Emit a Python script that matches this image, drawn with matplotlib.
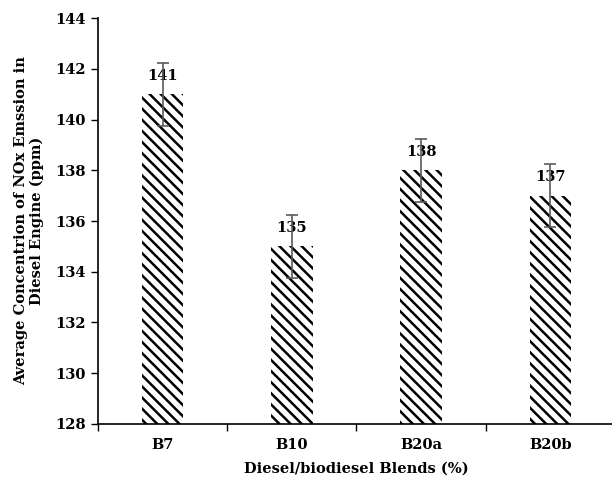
import matplotlib
matplotlib.use("Agg")
import matplotlib.pyplot as plt

plt.rcParams.update({
    "font.family": ["DejaVu Serif"],
    "font.weight": "bold",
    "hatch.linewidth": 1.8,
    "hatch.color": "black",
})

blends = ["B7", "B10", "B20a", "B20b"]
nox_ppm = [141, 135, 138, 137]
nox_err = [1.25, 1.25, 1.25, 1.25]

fig = plt.figure(figsize=(6.12, 4.79), dpi=100)
ax = fig.add_axes([0.16, 0.115, 0.845, 0.847])

x = range(len(blends))
ax.bar(x, nox_ppm, width=0.32, color="white", edgecolor="black", linewidth=0,
       hatch="\\\\\\", zorder=2)
for xi, v in zip(x, nox_ppm):
    ax.text(xi, v + 0.45, f"{v}", ha="center", va="bottom", fontsize=10.5,
            fontweight="bold", zorder=3)
ax.errorbar(x, nox_ppm, yerr=nox_err, fmt="none", ecolor="#5a5a5a", elinewidth=1.2,
            capsize=4, capthick=1.2, zorder=4)

ax.set_ylim(128, 144)
ax.set_yticks(range(128, 145, 2))
ax.set_xlim(-0.5, 3.5)
ax.set_xticks([-0.5, 0.5, 1.5, 2.5, 3.5])
ax.set_xticklabels([])
ax.set_xticks(list(x), minor=True)
ax.set_xticklabels(blends, minor=True)
ax.tick_params(axis="x", which="minor", length=0, pad=10, labelsize=10.5)
ax.tick_params(axis="x", which="major", direction="out", length=5, width=1)
ax.tick_params(axis="y", direction="out", length=5, width=1, labelsize=10.5)
for lab in ax.get_yticklabels() + ax.get_xticklabels(minor=True):
    lab.set_fontweight("bold")

ax.spines["top"].set_visible(False)
ax.spines["right"].set_visible(False)
ax.spines["left"].set_linewidth(1.2)
ax.spines["bottom"].set_linewidth(1.2)

ax.set_ylabel("Average Concentrion of NOx Emssion in\nDiesel Engine (ppm)", fontsize=10.5,
              fontweight="bold", labelpad=8)
ax.set_xlabel("Diesel/biodiesel Blends (%)", fontsize=10.5, fontweight="bold", labelpad=7)

fig.savefig("out.png", dpi=100)
